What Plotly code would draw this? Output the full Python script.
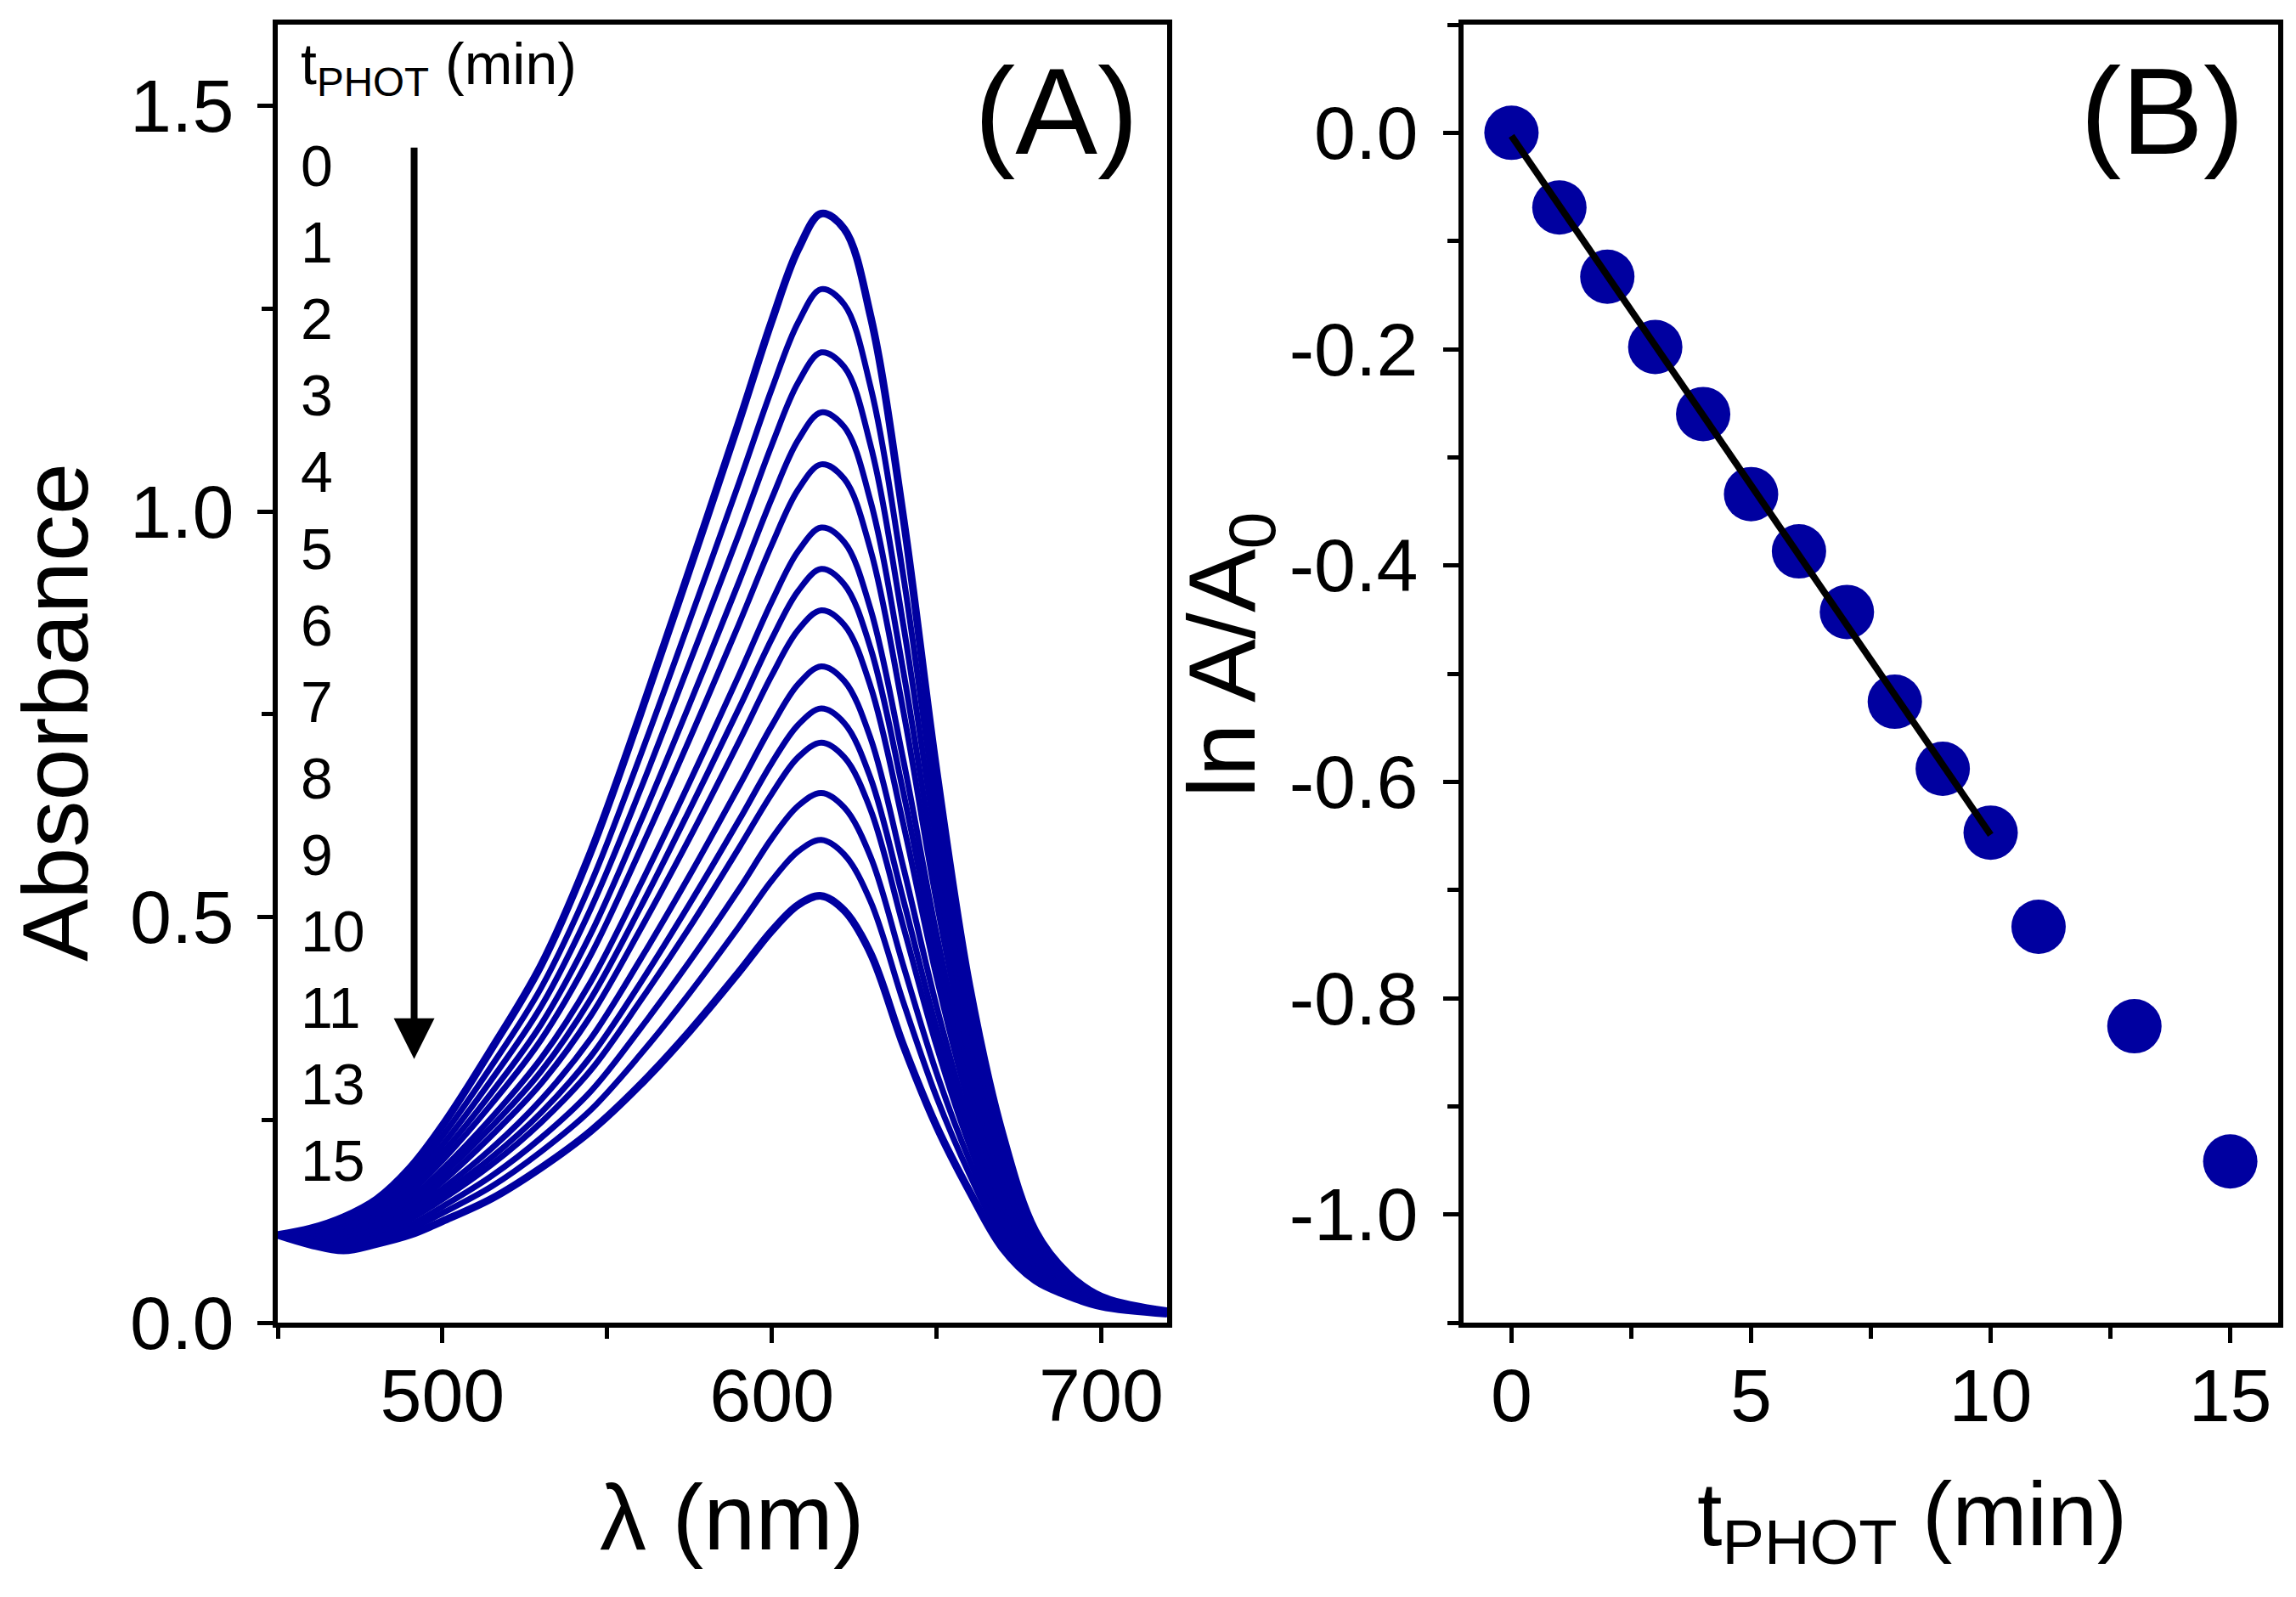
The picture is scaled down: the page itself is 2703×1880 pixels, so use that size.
import numpy as np
import plotly.graph_objects as go

# ---- panel (A): absorption spectra, one per irradiation time ----
wavelength = [450, 460, 470, 480, 490, 500, 515, 530, 545, 560, 575, 590, 600,
              608, 615, 622, 630, 640, 650, 660, 670, 680, 690, 700, 720]

abs_t0 = [0.108, 0.116, 0.130, 0.152, 0.190, 0.243, 0.338, 0.441, 0.580, 0.749, 0.928, 1.110, 1.235,
          1.323, 1.367, 1.348, 1.240, 0.990, 0.680, 0.415, 0.233, 0.113, 0.060, 0.032, 0.014]
abs_t1 = [0.108, 0.114, 0.125, 0.146, 0.181, 0.230, 0.317, 0.413, 0.541, 0.698, 0.865, 1.035, 1.151,
          1.233, 1.274, 1.255, 1.153, 0.918, 0.631, 0.387, 0.217, 0.106, 0.057, 0.031, 0.014]
abs_t2 = [0.108, 0.112, 0.122, 0.141, 0.173, 0.219, 0.300, 0.390, 0.510, 0.656, 0.813, 0.972, 1.082,
          1.159, 1.196, 1.178, 1.081, 0.858, 0.591, 0.364, 0.204, 0.101, 0.055, 0.030, 0.013]
abs_t3 = [0.108, 0.110, 0.118, 0.136, 0.166, 0.209, 0.284, 0.368, 0.479, 0.616, 0.762, 0.913, 1.016,
          1.088, 1.122, 1.104, 1.012, 0.801, 0.553, 0.341, 0.192, 0.095, 0.052, 0.029, 0.013]
abs_t4 = [0.108, 0.109, 0.115, 0.132, 0.160, 0.200, 0.270, 0.349, 0.453, 0.582, 0.719, 0.861, 0.959,
          1.027, 1.058, 1.040, 0.952, 0.752, 0.519, 0.322, 0.181, 0.091, 0.050, 0.028, 0.013]
abs_t5 = [0.108, 0.107, 0.111, 0.127, 0.152, 0.189, 0.253, 0.326, 0.420, 0.539, 0.666, 0.798, 0.889,
          0.951, 0.980, 0.962, 0.879, 0.692, 0.479, 0.299, 0.168, 0.085, 0.048, 0.027, 0.013]
abs_t6 = [0.108, 0.106, 0.109, 0.123, 0.147, 0.182, 0.242, 0.310, 0.399, 0.511, 0.632, 0.757, 0.843,
          0.902, 0.929, 0.910, 0.831, 0.652, 0.452, 0.283, 0.160, 0.081, 0.046, 0.026, 0.012]
abs_t7 = [0.108, 0.104, 0.106, 0.120, 0.142, 0.174, 0.231, 0.295, 0.378, 0.484, 0.597, 0.716, 0.798,
          0.854, 0.878, 0.860, 0.784, 0.613, 0.426, 0.268, 0.151, 0.078, 0.044, 0.025, 0.012]
abs_t8 = [0.108, 0.103, 0.103, 0.116, 0.136, 0.165, 0.215, 0.275, 0.350, 0.447, 0.551, 0.661, 0.736,
          0.787, 0.809, 0.791, 0.720, 0.560, 0.390, 0.247, 0.140, 0.073, 0.042, 0.024, 0.012]
abs_t9 = [0.108, 0.102, 0.100, 0.112, 0.131, 0.158, 0.204, 0.259, 0.328, 0.418, 0.516, 0.619, 0.690,
          0.737, 0.757, 0.739, 0.671, 0.520, 0.363, 0.232, 0.131, 0.069, 0.040, 0.023, 0.012]
abs_t10 = [0.108, 0.101, 0.098, 0.109, 0.127, 0.152, 0.195, 0.247, 0.311, 0.396, 0.487, 0.585, 0.652,
           0.697, 0.715, 0.697, 0.632, 0.487, 0.341, 0.219, 0.124, 0.066, 0.039, 0.023, 0.012]
abs_t11 = [0.108, 0.099, 0.095, 0.105, 0.120, 0.143, 0.181, 0.228, 0.285, 0.362, 0.445, 0.534, 0.597,
           0.637, 0.653, 0.635, 0.574, 0.439, 0.308, 0.200, 0.113, 0.061, 0.037, 0.022, 0.011]
abs_t13 = [0.108, 0.098, 0.092, 0.101, 0.115, 0.135, 0.168, 0.211, 0.262, 0.330, 0.406, 0.488, 0.545,
           0.581, 0.595, 0.577, 0.519, 0.394, 0.278, 0.183, 0.104, 0.057, 0.035, 0.021, 0.011]
abs_t15 = [0.108, 0.096, 0.089, 0.097, 0.108, 0.125, 0.153, 0.191, 0.236, 0.293, 0.359, 0.432, 0.483,
           0.515, 0.526, 0.508, 0.455, 0.341, 0.242, 0.162, 0.092, 0.052, 0.033, 0.020, 0.011]

spectra = [abs_t0, abs_t1, abs_t2, abs_t3, abs_t4, abs_t5, abs_t6, abs_t7,
           abs_t8, abs_t9, abs_t10, abs_t11, abs_t13, abs_t15]
time_labels = ["0", "1", "2", "3", "4", "5", "6", "7", "8", "9", "10", "11", "13", "15"]

# ---- panel (B): first-order plot ----
t_phot = [0, 1, 2, 3, 4, 5, 6, 7, 8, 9, 10, 11, 13, 15]
ln_ratio = [0.0, -0.069, -0.133, -0.198, -0.260, -0.334, -0.387, -0.443,
            -0.526, -0.588, -0.647, -0.734, -0.826, -0.951]

ly_ticks = [0.0, -0.2, -0.4, -0.6, -0.8, -1.0]
ly_text = ["0.0", "-0.2", "-0.4", "-0.6", "-0.8", "-1.0"]

BLUE = "#0000A0"
FONT = "Liberation Sans, Arial, sans-serif"
W, H = 2703, 1880
OFF = 8      # shift used for the text placement
OFF_AX = 5   # shift used for the plot frames


def px(x, off=OFF):
    # screen x (pixels) -> paper fraction
    return (x - off) / W


def py(y, off=OFF):
    # screen y (pixels from top) -> paper fraction
    return 1 - (y - off) / H


fig = go.Figure()

for i, spec in enumerate(spectra):
    thick = 9 if i in (0, len(spectra) - 1) else 7
    fig.add_trace(go.Scatter(
        x=wavelength, y=spec, mode="lines",
        line=dict(color=BLUE, width=thick, shape="spline", smoothing=1.0),
        xaxis="x", yaxis="y", showlegend=False, hoverinfo="skip"))

# linear fit over the first 10 minutes
fit_t = [t for t in t_phot if t <= 10]
fit_y = ln_ratio[:len(fit_t)]
slope, icpt = np.polyfit(fit_t, fit_y, 1)
fit_x = [fit_t[0], fit_t[-1]]

fig.add_trace(go.Scatter(
    x=t_phot, y=ln_ratio, mode="markers",
    marker=dict(color=BLUE, size=64, line=dict(width=0)),
    xaxis="x2", yaxis="y2", showlegend=False))

# fit line drawn on top of the markers
fig.add_trace(go.Scatter(
    x=fit_x, y=[icpt + slope * v for v in fit_x], mode="lines",
    line=dict(color="black", width=8), xaxis="x2", yaxis="y2",
    showlegend=False, hoverinfo="skip"))

axis_common = dict(
    showline=True, linecolor="black", linewidth=6, mirror=True,
    ticks="outside", ticklen=18, tickwidth=5, tickcolor="black",
    showgrid=False, zeroline=False, automargin=False,
    tickfont=dict(family=FONT, size=88, color="black"),
)
minor_common = dict(ticks="outside", ticklen=13, tickwidth=5, tickcolor="black", showgrid=False)

y_dom = [py(1554, OFF_AX), py(26, OFF_AX)]

fig.update_layout(
    width=W, height=H,
    margin=dict(l=0, r=0, t=0, b=0, autoexpand=False),
    paper_bgcolor="white", plot_bgcolor="white",
    font=dict(family=FONT, color="black"),
    xaxis=dict(
        domain=[px(324, OFF_AX), px(1371, OFF_AX)], range=[450, 720],
        tickvals=[500, 600, 700], minor=dict(dtick=50, tick0=450, **minor_common),
        ticklabelstandoff=-14, anchor="y", **axis_common),
    yaxis=dict(
        domain=y_dom, range=[0, 1.6],
        tickvals=[0, 0.5, 1.0, 1.5], tickformat=".1f",
        minor=dict(dtick=0.25, tick0=0, **minor_common),
        ticklabelstandoff=10, anchor="x", **axis_common),
    xaxis2=dict(
        domain=[px(1720, OFF_AX), px(2679, OFF_AX)], range=[-1, 16],
        tickvals=[0, 5, 10, 15], minor=dict(dtick=2.5, tick0=0, **minor_common),
        ticklabelstandoff=-14, anchor="y2", **axis_common),
    yaxis2=dict(
        domain=y_dom, range=[-1.1, 0.1],
        tickvals=ly_ticks, ticktext=ly_text,
        minor=dict(dtick=0.1, tick0=0, **minor_common),
        ticklabelstandoff=12, anchor="x2", **axis_common),
)


def label(text, x, y, size, angle=0, xanchor="center", **extra):
    return dict(text=text, x=px(x), y=py(y), xref="paper", yref="paper",
                xanchor=xanchor, yanchor="middle", textangle=angle, showarrow=False,
                font=dict(family=FONT, size=size, color="black"), **extra)


annotations = [
    # axis titles
    label("λ (nm)", 862, 1785, 110),
    label("Absorbance", 64, 839, 110, angle=-90, height=104),
    label("t<sub>PHOT</sub> (min)", 2251, 1790, 106),
    label("ln A/A<sub>0</sub>", 1447, 771, 112, angle=-90),
    # panel letters
    label("(A)", 1243, 131, 145),
    label("(B)", 2545, 131, 145),
    # time list header
    label("t<sub>PHOT</sub> (min)", 352, 80, 68, xanchor="left"),
    # arrow showing the direction of decreasing absorbance
    dict(x=491.4, y=0.325, ax=491.4, ay=1.45, xref="x", yref="y", axref="x", ayref="y",
         text="", showarrow=True, arrowhead=2, arrowsize=1.2, arrowwidth=8, arrowcolor="black"),
]
for i, lab in enumerate(time_labels):
    annotations.append(label(lab, 352, 195 + i * 90.1, 68, xanchor="left"))
fig.update_layout(annotations=annotations)

fig.write_html("out.html")
